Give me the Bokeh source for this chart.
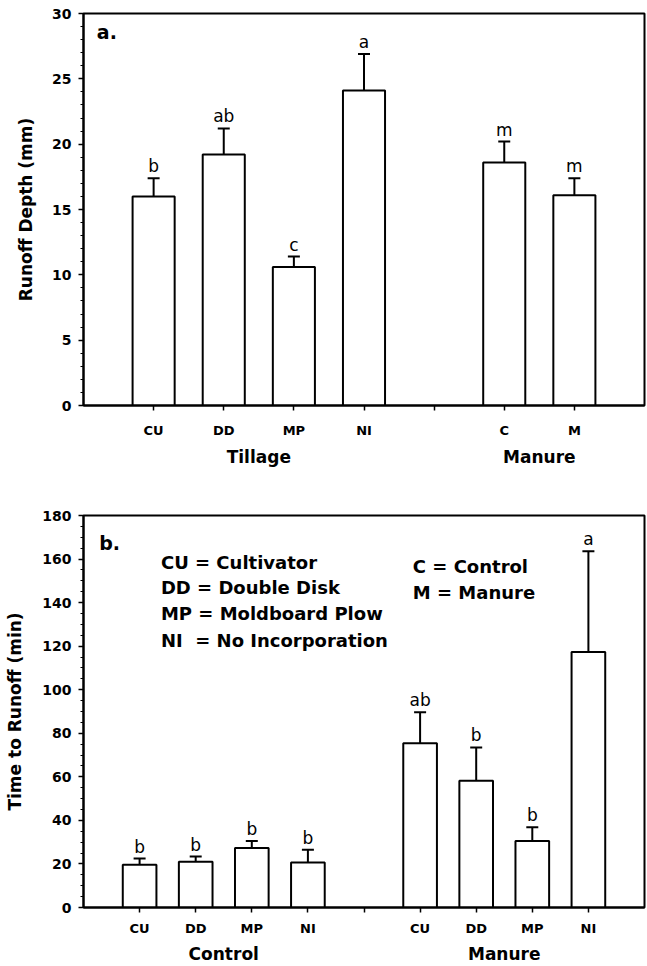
from bokeh.plotting import figure
from bokeh.models import (Range1d, FixedTicker, SingleIntervalTicker, LinearAxis,
                          ColumnDataSource, Whisker, TeeHead, Label)
from bokeh.layouts import column
from bokeh.embed import file_html
from bokeh.resources import INLINE
from bokeh.core.properties import value

# ---------------- data: panel a (runoff depth, mm) ----------------
a_labels = ["CU", "DD", "MP", "NI", "C", "M"]
a_pos = [1, 2, 3, 4, 6, 7]
a_mean = [16.0, 19.2, 10.6, 24.1, 18.6, 16.1]
a_se = [1.4, 2.0, 0.8, 2.8, 1.6, 1.3]
a_letters = ["b", "ab", "c", "a", "m", "m"]
a_groups = ["Tillage", "Manure"]
a_group_pos = [2.5, 6.5]

# ---------------- data: panel b (time to runoff, min) ----------------
b_labels = ["CU", "DD", "MP", "NI", "CU", "DD", "MP", "NI"]
b_pos = [1, 2, 3, 4, 6, 7, 8, 9]
b_mean = [19.6, 21.0, 27.3, 20.7, 75.4, 58.2, 30.5, 117.3]
b_se = [2.9, 2.4, 3.2, 5.8, 14.2, 15.3, 6.3, 46.3]
b_letters = ["b", "b", "b", "b", "ab", "b", "b", "a"]
b_groups = ["Control", "Manure"]
b_group_pos = [2.5, 7.5]

legend_tillage = ["CU = Cultivator", "DD = Double Disk", "MP = Moldboard Plow",
                  "NI\u00a0\u00a0= No Incorporation"]
legend_manure = ["C = Control", "M = Manure"]

INK = "#000000"
TXT = "#000000"
FONT = "DejaVu Sans"
FONT_V = value(FONT)


def panel(labels, pos, mean, se, letters, groups, group_pos, xmax, ymax,
          yint, yminor, ylabel, tag, tag_xy, top_border, bottom_border,
          x_standoff, g_standoff, y_title_standoff):
    p = figure(frame_width=561, frame_height=392,
               x_range=Range1d(0, xmax), y_range=Range1d(0, ymax),
               output_backend="svg", toolbar_location=None,
               min_border_left=83, min_border_right=3,
               min_border_top=top_border, min_border_bottom=bottom_border)
    p.grid.visible = False
    p.outline_line_color = INK
    p.outline_line_width = 2
    p.outline_line_alpha = 1.0
    p.background_fill_color = "white"
    p.border_fill_color = "white"

    # bars
    src = ColumnDataSource(dict(x=pos, top=mean,
                                up=[m + s for m, s in zip(mean, se)],
                                lab=letters))
    p.vbar(x="x", top="top", bottom=0, width=0.6, source=src,
           fill_color="white", line_color=INK, line_width=2)
    w = Whisker(base="x", lower="top", upper="up", source=src,
                line_color=INK, line_width=2,
                upper_head=TeeHead(size=12, line_color=INK, line_width=2),
                lower_head=None)
    p.add_layout(w)
    p.text(x="x", y="up", text="lab", source=src, text_align="center",
           text_baseline="bottom", y_offset=-2, text_font=FONT_V,
           text_font_size="17px", text_color=TXT)

    # x axis (category ticks)
    ticks = list(range(1, xmax))
    overrides = {t: "" for t in ticks}
    for l, x in zip(labels, pos):
        overrides[x] = l
    xa = p.xaxis[0]
    xa.ticker = FixedTicker(ticks=ticks, minor_ticks=[])
    xa.major_label_overrides = overrides
    xa.axis_line_width = 2
    xa.axis_line_color = INK
    xa.major_tick_line_width = 1.5
    xa.major_tick_line_color = INK
    xa.major_tick_in = 0
    xa.major_tick_out = 5
    xa.minor_tick_out = 0
    xa.minor_tick_in = 0
    xa.major_label_standoff = x_standoff
    xa.major_label_text_font = FONT
    xa.major_label_text_font_style = "bold"
    xa.major_label_text_font_size = "13px"
    xa.major_label_text_color = TXT

    # group titles as a second axis below
    ga = LinearAxis(ticker=FixedTicker(ticks=group_pos, minor_ticks=[]),
                    major_label_overrides={g: t for g, t in zip(group_pos, groups)},
                    axis_line_color=None, major_tick_line_color=None,
                    major_tick_in=0, major_tick_out=0,
                    minor_tick_in=0, minor_tick_out=0,
                    major_label_standoff=g_standoff,
                    major_label_text_font=FONT,
                    major_label_text_font_style="bold",
                    major_label_text_font_size="17px",
                    major_label_text_color=TXT)
    p.add_layout(ga, "below")

    # y axis
    ya = p.yaxis[0]
    ya.ticker = SingleIntervalTicker(interval=yint, num_minor_ticks=yminor)
    ya.axis_line_width = 2
    ya.axis_line_color = INK
    ya.major_tick_line_color = INK
    ya.minor_tick_line_color = INK
    ya.major_tick_line_width = 1.5
    ya.minor_tick_line_width = 1
    ya.major_tick_in = 0
    ya.major_tick_out = 5
    ya.minor_tick_in = 0
    ya.minor_tick_out = 3
    ya.major_label_standoff = 7
    ya.major_label_text_font = FONT
    ya.major_label_text_font_style = "bold"
    ya.major_label_text_font_size = "14px"
    ya.major_label_text_color = TXT
    ya.axis_label = ylabel
    ya.axis_label_text_font = FONT
    ya.axis_label_text_font_style = "bold"
    ya.axis_label_text_font_size = "17px"
    ya.axis_label_text_color = TXT
    ya.axis_label_standoff = y_title_standoff

    p.add_layout(Label(x=tag_xy[0], y=tag_xy[1], text=tag, text_font=FONT,
                       text_font_style="bold", text_font_size="19px",
                       text_color=TXT, text_baseline="alphabetic"))
    return p


pa = panel(a_labels, a_pos, a_mean, a_se, a_letters, a_groups, a_group_pos,
           8, 30, 5, 5, "Runoff Depth (mm)", "a.", (0.19, 28.6), 13, 65,
           12, 6, 13)
pb = panel(b_labels, b_pos, b_mean, b_se, b_letters, b_groups, b_group_pos,
           10, 180, 20, 4, "Time to Runoff (min)", "b.", (0.28, 167.3), 45, 59,
           8, 5, 14)

# legend text in panel b
for txt, yy in zip(legend_tillage, [158.5, 146.8, 134.8, 122.6]):
    pb.add_layout(Label(x=1.38, y=yy, text=txt, text_font=FONT,
                        text_font_style="bold", text_font_size="18px",
                        text_color=TXT, text_baseline="middle"))
for txt, yy in zip(legend_manure, [156.7, 144.8]):
    pb.add_layout(Label(x=5.87, y=yy, text=txt, text_font=FONT,
                        text_font_style="bold", text_font_size="18px",
                        text_color=TXT, text_baseline="middle"))

layout = column(pa, pb, spacing=0)
open("out.html", "w").write(file_html(layout, INLINE))
